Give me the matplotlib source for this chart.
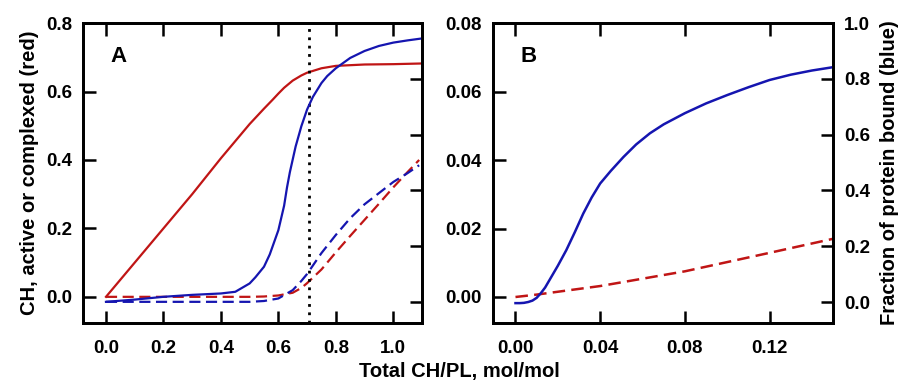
import matplotlib.pyplot as plt
import numpy as np

plt.rcParams['font.family'] = ['Liberation Sans', 'DejaVu Sans']
plt.rcParams['font.weight'] = 'bold'

red = '#c01515'
blue = '#1515b0'

# Panel A: CH active (red solid) and complexed (red dashed), left axis
xA_red = np.array([0.0, 0.1, 0.2, 0.3, 0.4, 0.5, 0.55, 0.58, 0.6, 0.62, 0.65, 0.68, 0.7, 0.75, 0.8, 0.9, 1.0, 1.1])
yA_red = np.array([0.0, 0.1, 0.2, 0.3, 0.405, 0.505, 0.55, 0.576, 0.594, 0.611, 0.632, 0.647, 0.655, 0.668, 0.675, 0.679, 0.68, 0.682])
xA_red_d = np.array([0.0, 0.3, 0.5, 0.55, 0.6, 0.65, 0.68, 0.7, 0.75, 0.8, 0.85, 0.9, 0.95, 1.0, 1.05, 1.09])
yA_red_d = np.array([0.0, 0.0, 0.0, 0.001, 0.004, 0.012, 0.026, 0.04, 0.08, 0.13, 0.178, 0.225, 0.272, 0.32, 0.365, 0.40])

# Panel A: fraction of protein bound (blue), right axis
xA_blue = np.array([0.0, 0.1, 0.2, 0.3, 0.4, 0.45, 0.5, 0.52, 0.55, 0.57, 0.6, 0.62, 0.63, 0.64, 0.66,
                    0.68, 0.7, 0.72, 0.75, 0.77, 0.8, 0.85, 0.9, 0.95, 1.0, 1.05, 1.1])
yA_blue = np.array([0.0, 0.008, 0.018, 0.025, 0.03, 0.036, 0.066, 0.088, 0.126, 0.17, 0.257, 0.345, 0.41, 0.465, 0.557,
                    0.63, 0.69, 0.735, 0.785, 0.81, 0.838, 0.875, 0.9, 0.918, 0.93, 0.938, 0.945])
xA_blue_d = np.array([0.0, 0.3, 0.5, 0.55, 0.6, 0.65, 0.68, 0.7, 0.75, 0.8, 0.85, 0.9, 0.95, 1.0, 1.05, 1.09])
yA_blue_d = np.array([0.0, 0.0, 0.0, 0.003, 0.012, 0.042, 0.075, 0.10, 0.175, 0.24, 0.30, 0.35, 0.39, 0.43, 0.462, 0.49])

# Panel B
xB_blue = np.array([0.0, 0.002, 0.004, 0.006, 0.008, 0.01, 0.012, 0.014, 0.016, 0.02, 0.024, 0.028, 0.032, 0.036,
                    0.04, 0.045, 0.051, 0.057, 0.0635, 0.07, 0.08, 0.09, 0.1, 0.11, 0.12, 0.13, 0.14, 0.15])
yB_blue = np.array([-0.004, -0.004, -0.003, 0.0, 0.005, 0.015, 0.032, 0.052, 0.078, 0.13, 0.186, 0.25, 0.317, 0.375,
                    0.425, 0.47, 0.52, 0.565, 0.605, 0.637, 0.677, 0.712, 0.742, 0.77, 0.796, 0.815, 0.83, 0.842])
xB_red_d = np.array([0.0, 0.01, 0.04, 0.08, 0.12, 0.15])
yB_red_d = np.array([0.0, 0.0007, 0.0032, 0.0075, 0.0129, 0.017])

x_dotted = 0.708

fig = plt.figure(figsize=(9.07, 3.85), dpi=100)
axA = fig.add_axes([0.0915, 0.161, 0.3738, 0.779])
axB = fig.add_axes([0.5436, 0.161, 0.3749, 0.779])
axA2 = axA.twinx()
axB2 = axB.twinx()

dash = (0, (5, 2.5))

axA.plot(xA_red, yA_red, color=red, lw=1.6)
axA.plot(xA_red_d, yA_red_d, color=red, lw=1.6, linestyle=dash)
axA2.plot(xA_blue, yA_blue, color=blue, lw=1.6)
axA2.plot(xA_blue_d, yA_blue_d, color=blue, lw=1.6, linestyle=dash)
axA.axvline(x_dotted, color='black', lw=2, linestyle=(0, (1, 2)))

axB.plot(xB_red_d, yB_red_d, color=red, lw=1.8, linestyle=dash)
axB2.plot(xB_blue, yB_blue, color=blue, lw=1.8)

axA.set_xlim(-0.08, 1.1)
axA.set_ylim(-0.0765, 0.8)
axA2.set_ylim(-0.076, 1.0)
axA.set_xticks([0.0, 0.2, 0.4, 0.6, 0.8, 1.0])
axA.set_xticklabels(['0.0', '0.2', '0.4', '0.6', '0.8', '1.0'])
axA.set_yticks([0.0, 0.2, 0.4, 0.6, 0.8])
axA.set_yticklabels(['0.0', '0.2', '0.4', '0.6', '0.8'])
axA2.set_yticks([0.0, 0.2, 0.4, 0.6, 0.8, 1.0])
axA2.set_yticklabels([])

axB.set_xlim(-0.0106, 0.15)
axB.set_ylim(-0.0076, 0.08)
axB2.set_ylim(-0.0753, 1.0)
axB.set_xticks([0.0, 0.04, 0.08, 0.12])
axB.set_xticklabels(['0.00', '0.04', '0.08', '0.12'])
axB.set_yticks([0.0, 0.02, 0.04, 0.06, 0.08])
axB.set_yticklabels(['0.00', '0.02', '0.04', '0.06', '0.08'])
axB2.set_yticks([0.0, 0.2, 0.4, 0.6, 0.8, 1.0])
axB2.set_yticklabels(['0.0', '0.2', '0.4', '0.6', '0.8', '1.0'])

for ax in [axA, axB]:
    ax.tick_params(axis='x', direction='in', top=True, length=9, width=1.8, labelsize=13.5, pad=12)
    ax.tick_params(axis='y', direction='in', length=9, width=1.8, labelsize=13.5, pad=8)
for ax in [axA2, axB2]:
    ax.tick_params(axis='y', direction='in', length=9, width=1.8, labelsize=13.5, pad=8)
for ax in [axA, axB, axA2, axB2]:
    for s in ax.spines.values():
        s.set_linewidth(2)

axA.text(0.08, 0.87, 'A', transform=axA.transAxes, fontsize=16, fontweight='bold')
axB.text(0.08, 0.87, 'B', transform=axB.transAxes, fontsize=16, fontweight='bold')

axA.set_ylabel('CH, active or complexed (red)', fontsize=14.5, fontweight='bold', labelpad=5)
axB2.set_ylabel('Fraction of protein bound (blue)', fontsize=14.5, fontweight='bold', labelpad=7)
fig.text(0.507, 0.02, 'Total CH/PL, mol/mol', ha='center', fontsize=14.5, fontweight='bold')

plt.savefig('out.png', dpi=100)
plt.close()
